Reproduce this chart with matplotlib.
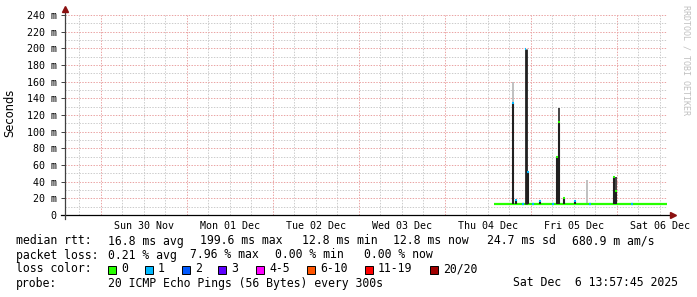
import matplotlib
matplotlib.use('Agg')
import matplotlib.pyplot as plt
from matplotlib.patches import Rectangle
from datetime import datetime, timedelta

# --- data ---
graph_start = "2025-11-29 13:57:45"
graph_end = "2025-12-06 13:57:45"

data_start = "2025-12-04 13:40"
data_end = "2025-12-06 13:57"
baseline_rtt = 12.8  # ms

spike_times = ["2025-12-04 19:04", "2025-12-04 19:44", "2025-12-04 22:30",
               "2025-12-04 23:10", "2025-12-05 02:30", "2025-12-05 07:20",
               "2025-12-05 07:55", "2025-12-05 09:12", "2025-12-05 12:17",
               "2025-12-05 23:10", "2025-12-05 23:40"]
spike_rtt = [134, 18, 199.6, 52, 17, 70, 111, 20, 17, 46, 29]
spike_loss = [1, 1, 1, 1, 1, 0, 0, 0, 1, 0, 0]

smoke_times = ["2025-12-04 19:04", "2025-12-04 23:10", "2025-12-05 07:55",
               "2025-12-05 15:43", "2025-12-05 23:40"]
smoke_lo = [134, 28, 111, 13, 29]
smoke_hi = [159, 52, 128, 42, 46]

loss1_times = ["2025-12-04 21:51", "2025-12-05 00:34", "2025-12-05 06:08",
               "2025-12-05 16:28", "2025-12-06 04:16"]

loss_labels = ["0", "1", "2", "3", "4-5", "6-10", "11-19", "20/20"]
loss_colors = ["#26ff00", "#00b8ff", "#0059ff", "#5e00ff",
               "#ff00ff", "#ff5500", "#ff0000", "#a00000"]

day_labels = ["Sun 30 Nov", "Mon 01 Dec", "Tue 02 Dec", "Wed 03 Dec",
              "Thu 04 Dec", "Fri 05 Dec", "Sat 06 Dec"]

median_line = [("median rtt:", 16), ("16.8 ms avg", 108), ("199.6 ms max", 200),
               ("12.8 ms min", 302), ("12.8 ms now", 393), ("24.7 ms sd", 487),
               ("680.9 m am/s", 572)]
loss_line = [("packet loss:", 16), ("0.21 % avg", 108), ("7.96 % max", 190),
             ("0.00 % min", 275), ("0.00 % now", 364)]
probe_line = [("probe:", 16), ("20 ICMP Echo Pings (56 Bytes) every 300s", 108),
              ("Sat Dec  6 13:57:45 2025", 513)]


def ts(s):
    fmt = "%Y-%m-%d %H:%M:%S" if s.count(":") == 2 else "%Y-%m-%d %H:%M"
    return datetime.strptime(s, fmt)


W, H = 697, 297
MONO = "DejaVu Sans Mono"

fig = plt.figure(figsize=(W / 100, H / 100), dpi=100)
ax = fig.add_axes([65 / W, (H - 215) / H, 602 / W, 200 / H])

t0, t1 = ts(graph_start), ts(graph_end)
ax.set_xlim(t0, t1)
ax.set_ylim(0, 240)

for s in ax.spines.values():
    s.set_visible(False)

# grids
midnights = [datetime(2025, 11, 30) + timedelta(days=i) for i in range(7)]
six_hours = [datetime(2025, 11, 29, 18) + timedelta(hours=6 * i) for i in range(28)]
dots = (0, (1.4, 1.4))
ax.set_xticks(midnights)
ax.set_xticks(six_hours, minor=True)
ax.set_yticks(range(0, 241, 20))
ax.set_yticks(range(10, 240, 20), minor=True)
ax.grid(which='minor', color='#cccccc', linestyle=dots, linewidth=0.72)
ax.grid(which='major', color='#eaa4a4', linestyle=dots, linewidth=0.72)
ax.tick_params(axis='x', which='both', length=0, labelbottom=False)
ax.tick_params(axis='y', which='minor', length=0)
ax.tick_params(axis='y', which='major', length=3, width=0.7, color='#404040',
               pad=3, labelsize=7.2)
ax.set_yticklabels([("%d m" % v) if v else "0" for v in range(0, 241, 20)],
                   family=MONO)
ax.set_axisbelow(True)

# day labels at noon
for i, lab in enumerate(day_labels):
    ax.text(midnights[i] + timedelta(hours=12), -0.028, lab,
            transform=ax.get_xaxis_transform(), ha='center', va='top',
            family=MONO, fontsize=7.2)

# axes lines with arrows
ax.plot([-0.006, 1.008], [0, 0], color='black', lw=0.9,
        transform=ax.transAxes, clip_on=False, zorder=5)
ax.plot([0, 0], [-0.02, 1.02], color='#404040', lw=0.9,
        transform=ax.transAxes, clip_on=False, zorder=5)
ax.plot([1.010], [0], marker='>', ms=4, color='#8b1010',
        transform=ax.transAxes, clip_on=False, zorder=6)
ax.plot([0], [1.028], marker='^', ms=4, color='#8b1010',
        transform=ax.transAxes, clip_on=False, zorder=6)

# baseline median (loss 0)
ax.plot([ts(data_start), ts(data_end)], [baseline_rtt, baseline_rtt],
        color=loss_colors[0], lw=1.6, zorder=3, solid_capstyle='butt')
half = timedelta(minutes=20)
for s in loss1_times:
    t = ts(s)
    ax.plot([t - half, t + half], [baseline_rtt, baseline_rtt],
            color=loss_colors[1], lw=1.6, zorder=3.5, solid_capstyle='butt')

# smoke
smoke_shades = ['#c0c0c0', '#555555', '#444444', '#c0c0c0', '#444444']
for s, lo, hi, c in zip(smoke_times, smoke_lo, smoke_hi, smoke_shades):
    ax.vlines(ts(s), lo, hi, color=c, lw=1.4, zorder=2)

# spikes (the tallest one is drawn a little wider, as in the reference)
cap = timedelta(minutes=15)
for s, v, l in zip(spike_times, spike_rtt, spike_loss):
    t = ts(s)
    ax.vlines(t, baseline_rtt, v, color='#202020',
              lw=2.0 if v == max(spike_rtt) else 1.5, zorder=4)
    ax.plot([t - cap, t + cap], [v, v], color=loss_colors[l], lw=1.5,
            zorder=4.5, solid_capstyle='butt')

# y label and watermark
fig.text(10 / W, 1 - 113 / H, "Seconds", rotation=90, ha='center', va='center',
         fontsize=8.3, family='DejaVu Sans')
fig.text(686 / W, 1 - 5 / H, "RRDTOOL / TOBI OETIKER", rotation=270,
         ha='center', va='top', fontsize=6, family=MONO, color='#c0c0c0')

# legend rows
def row(items, y):
    for txt, x in items:
        fig.text(x / W, 1 - y / H, txt, ha='left', va='center',
                 family=MONO, fontsize=8.3)

row(median_line, 241)
row(loss_line, 255)
row([("loss color:", 16)], 269)
row(probe_line, 283)

box_x = [108, 145, 182, 218, 256, 307, 365, 430]
for bx, lab, col in zip(box_x, loss_labels, loss_colors):
    fig.patches.append(Rectangle((bx / W, 1 - 273.5 / H), 8 / W, 8 / H,
                                 transform=fig.transFigure, facecolor=col,
                                 edgecolor='black', linewidth=0.7))
    fig.text((bx + 13) / W, 1 - 269 / H, lab, ha='left', va='center',
             family=MONO, fontsize=8.3)

fig.savefig("out.png", dpi=100)
